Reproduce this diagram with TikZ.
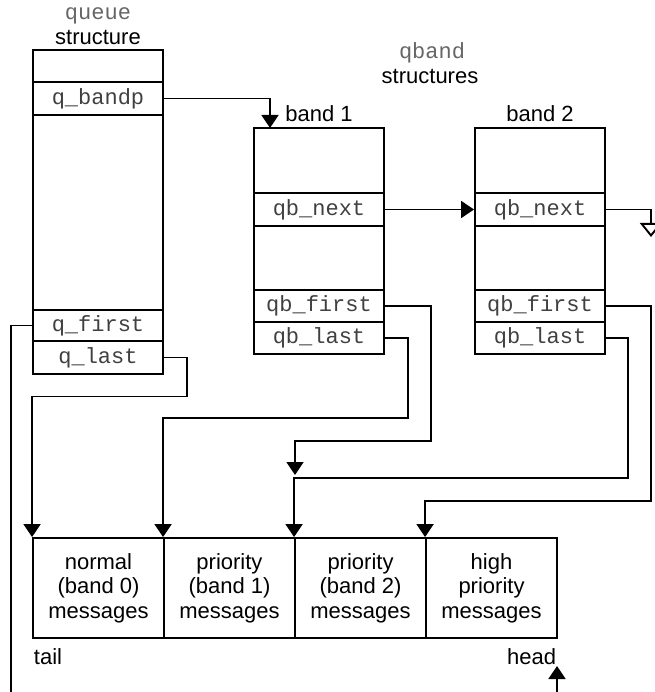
\documentclass[tikz,border=0pt]{standalone}
\usepackage{fontspec}
\setmainfont{Liberation Sans}
\setsansfont{Liberation Sans}
\setmonofont{Liberation Mono}
\usetikzlibrary{arrows.meta}
\begin{document}
\begin{tikzpicture}[x=1pt,y=-1pt,line width=1.9pt,>={Triangle[width=17pt,length=13pt]}]
    \tikzstyle{every node}=[font=\fontsize{22}{24.5}\sffamily]
    \tikzstyle{field}=[draw,minimum width=130pt,inner sep=0pt,font=\fontsize{22}{24}\ttfamily,text=black!75]
    \tikzstyle{msgbox}=[draw,minimum width=131pt,minimum height=100pt,inner sep=0pt,align=center]
    \tikzstyle{mono}=[font=\fontsize{22}{24}\ttfamily,text=black!60]

    \useasboundingbox (0,0) rectangle (654,692);

    \node[mono] (qname) at (98,16) {queue};
    \node (qlabel) at (98,38) {structure};
    \node[field,minimum height=32pt] (qtop) at (98,66) {};
    \node[field,minimum height=33pt] (qbandp) at (98,98.5) {q\_bandp};
    \node[field,minimum height=195pt] (qmid) at (98,212.5) {};
    \node[field,minimum height=31pt] (qfirst) at (98,325.5) {q\_first};
    \node[field,minimum height=33pt] (qlast) at (98,357.5) {q\_last};

    \node[mono] (bname) at (432,53) {qband};
    \node (blabel) at (430,76) {structures};

    \node[field,minimum height=65pt] (b1top) at (319,160.5) {};
    \node[field,minimum height=33pt] (b1next) at (319,209.5) {qb\_next};
    \node[field,minimum height=64pt] (b1mid) at (319,258) {};
    \node[field,minimum height=32pt] (b1first) at (319,306) {qb\_first};
    \node[field,minimum height=32pt] (b1last) at (319,338) {qb\_last};
    \node[above=1pt] (b1label) at (b1top.north) {band 1};

    \node[field,minimum height=65pt] (b2top) at (540,160.5) {};
    \node[field,minimum height=33pt] (b2next) at (540,209.5) {qb\_next};
    \node[field,minimum height=64pt] (b2mid) at (540,258) {};
    \node[field,minimum height=32pt] (b2first) at (540,306) {qb\_first};
    \node[field,minimum height=32pt] (b2last) at (540,338) {qb\_last};
    \node[above=1pt] (b2label) at (b2top.north) {band 2};

    \node[msgbox] (m0) at (98.5,588) {normal\\(band 0)\\messages};
    \node[msgbox] (m1) at (229.5,588) {priority\\(band 1)\\messages};
    \node[msgbox] (m2) at (360.5,588) {priority\\(band 2)\\messages};
    \node[msgbox] (m3) at (491.5,588) {high\\priority\\messages};

    \node[anchor=west,inner sep=0pt] (tail) at (33,657) {tail};
    \node[anchor=east,inner sep=0pt] (head) at (557,657) {head};

    \coordinate (b1in) at (270,128);
    \coordinate (nextend) at (651,237);
    \coordinate (tailend) at (11,692);
    \coordinate (b1ftip) at (295,475);
    \coordinate (headfoot) at (557,692);
    \coordinate (headtip) at (557,666);

    \draw[->] (qbandp.east) -| (b1in);
    \draw[->] (b1next.east) -- (b2next.west);
    \draw[-{Triangle[open,width=22pt,length=14pt]}] (b2next.east) -| (nextend);

    \draw (qfirst.west) -| (tailend);
    \draw[->] (qlast.east) -- ++(23,0) -- ++(0,39) -| (m0.north west);
    \draw[->] (b1last.east) -- ++(23,0) -- ++(0,80) -| (m1.north west);
    \draw[->] (b1first.east) -- ++(46,0) -- ++(0,135) -| (b1ftip);
    \draw[->] (b2last.east) -- ++(22,0) -- ++(0,140) -| (m2.north west);
    \draw[->] (b2first.east) -- ++(45,0) -- ++(0,195) -| (m3.north west);

    \draw[->] (headfoot) -- (headtip);
\end{tikzpicture}
\end{document}
